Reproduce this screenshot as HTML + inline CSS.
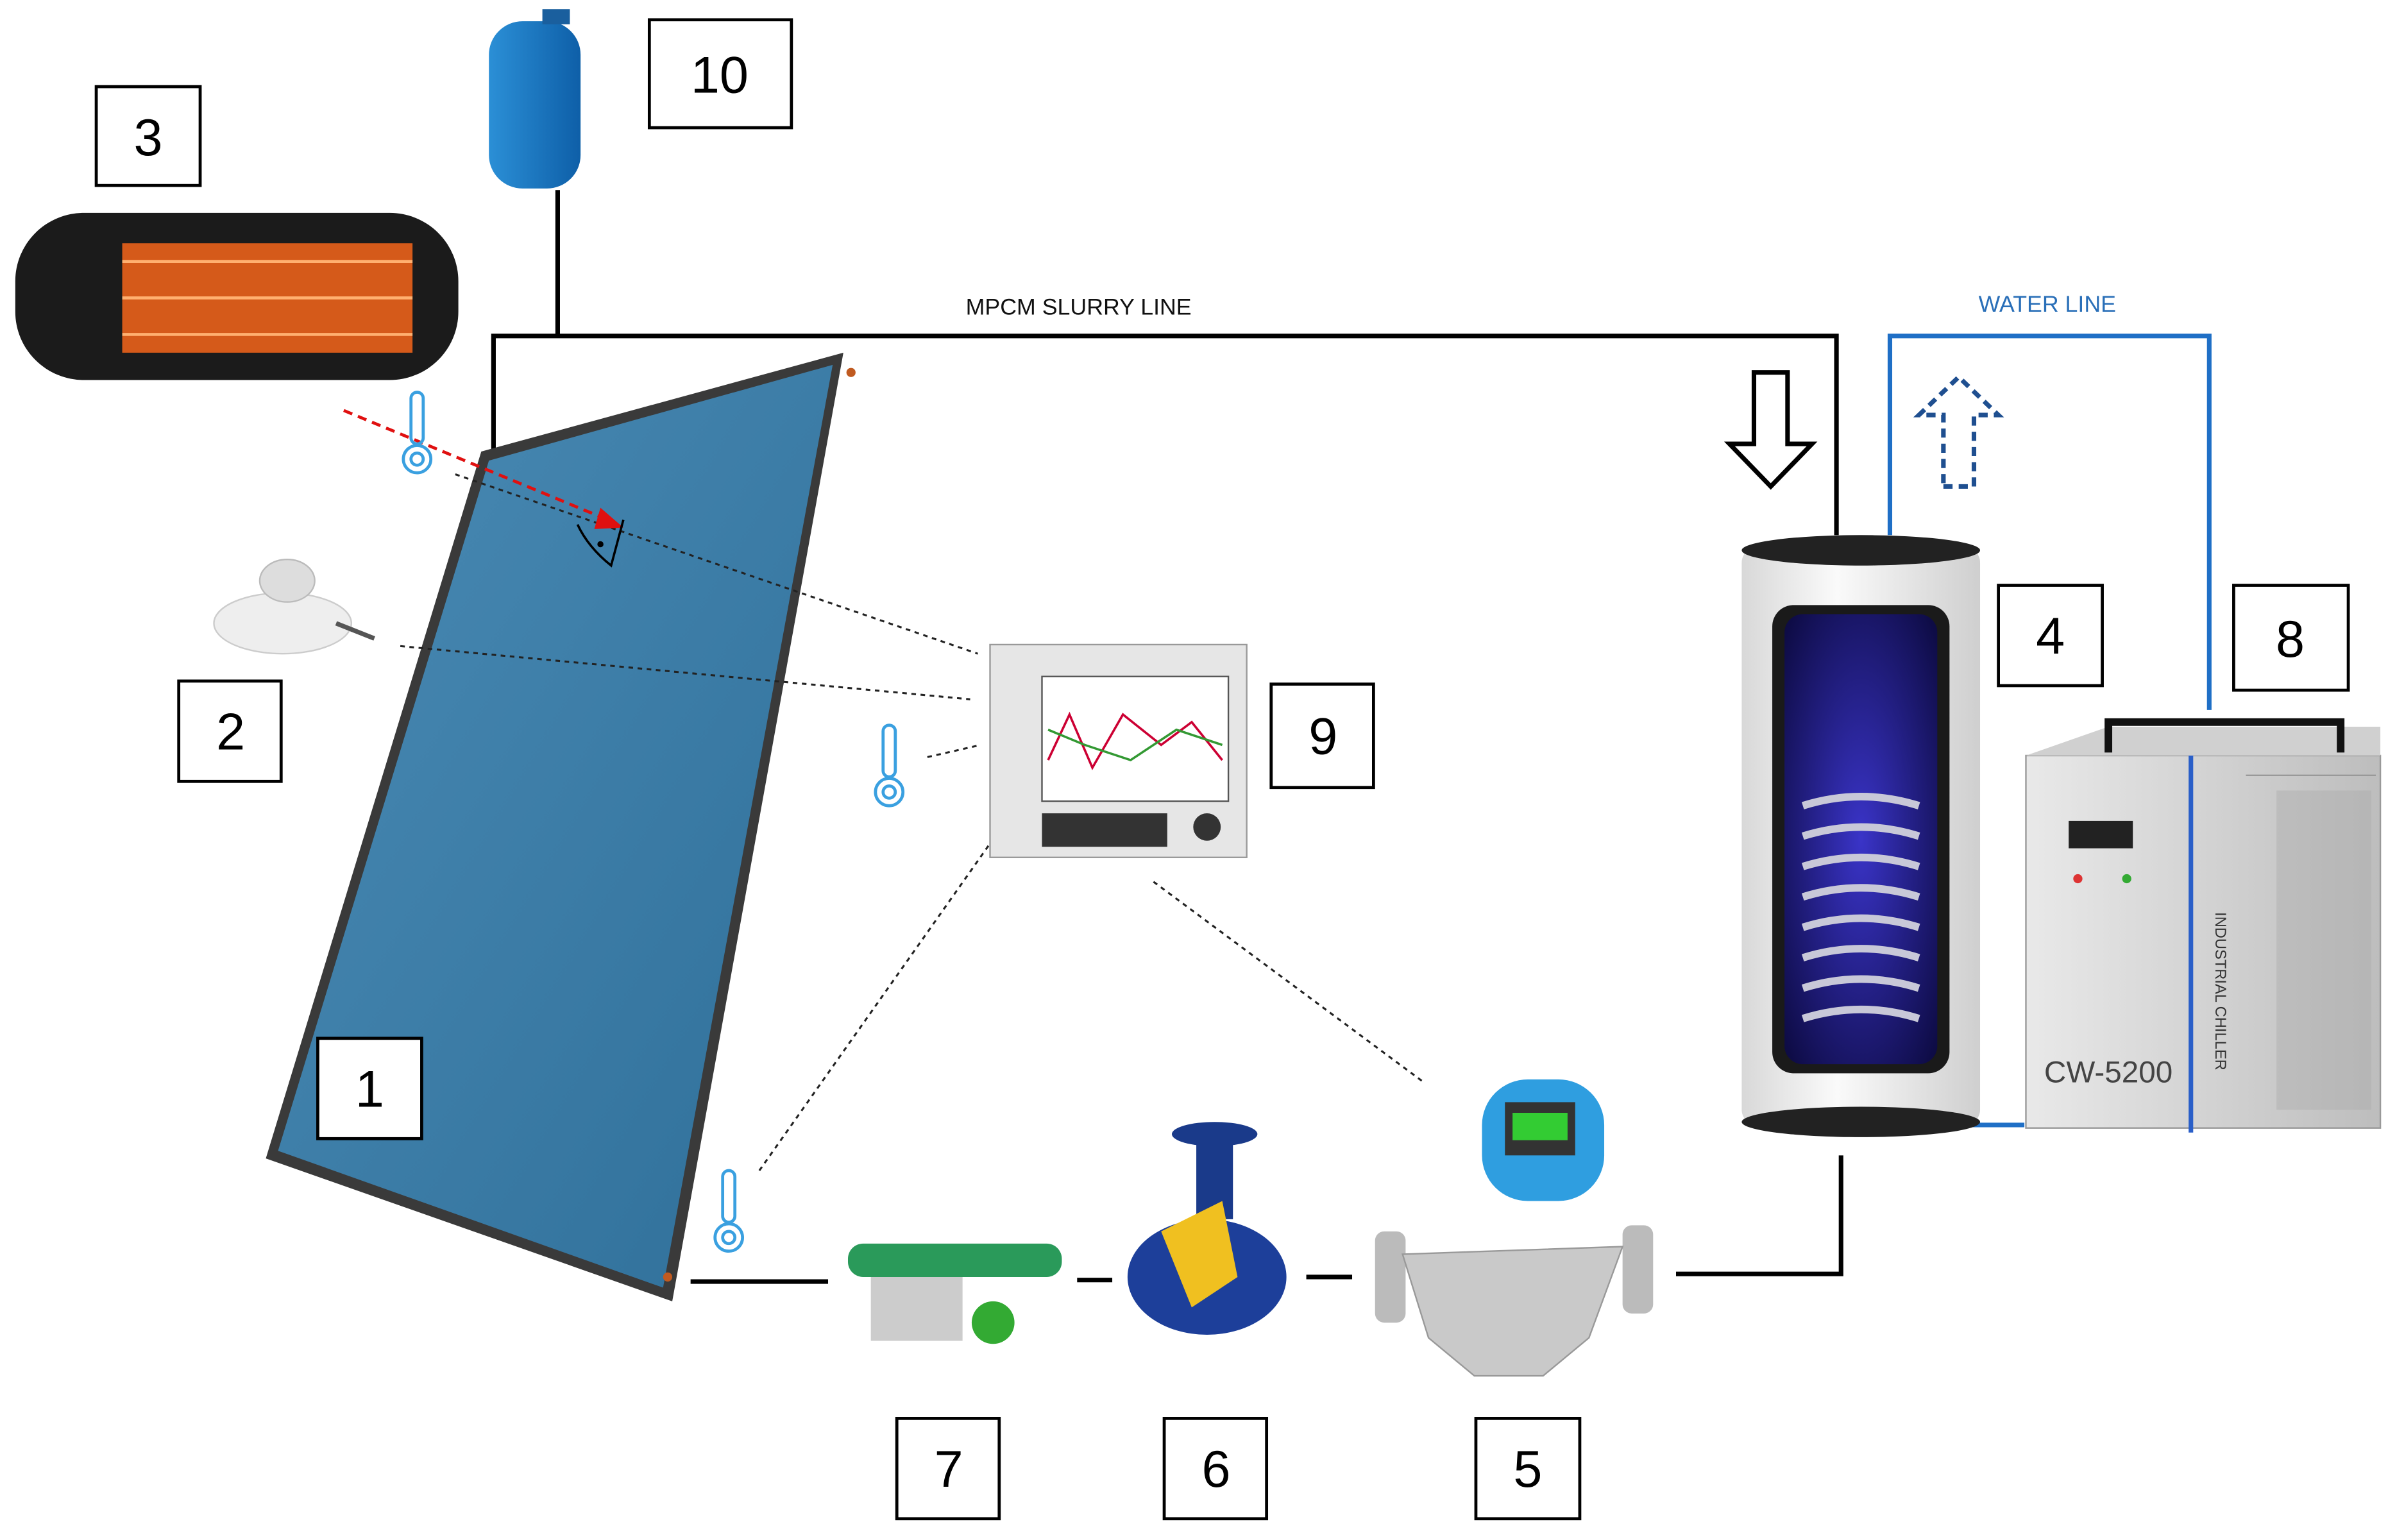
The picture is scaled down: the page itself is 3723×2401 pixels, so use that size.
<!DOCTYPE html>
<html><head><meta charset="utf-8"><style>
html,body{margin:0;padding:0;background:#fff;}
svg{display:block;}
text{font-family:"Liberation Sans",sans-serif;}
</style></head><body>
<svg width="3723" height="2401" viewBox="0 0 1563 1013" preserveAspectRatio="none" xmlns="http://www.w3.org/2000/svg">
<defs>
<linearGradient id="pan" x1="0" y1="0" x2="1" y2="1"><stop offset="0" stop-color="#4a8bb5"/><stop offset="1" stop-color="#2f6f99"/></linearGradient>
<linearGradient id="tank" x1="0" x2="1"><stop offset="0" stop-color="#2b8fd6"/><stop offset="1" stop-color="#0e5fa8"/></linearGradient>
<linearGradient id="cyl" x1="0" x2="1"><stop offset="0" stop-color="#d8d8d8"/><stop offset="0.4" stop-color="#fafafa"/><stop offset="1" stop-color="#cfcfcf"/></linearGradient>
<linearGradient id="chl" x1="0" x2="1"><stop offset="0" stop-color="#e9e9e9"/><stop offset="1" stop-color="#bdbdbd"/></linearGradient>
<radialGradient id="inner" cx="0.5" cy="0.5" r="0.7"><stop offset="0" stop-color="#3a34c8"/><stop offset="1" stop-color="#0c0a40"/></radialGradient>
</defs>

<!-- pipes -->
<polyline points="323,298 323,221 1202,221 1202,352" fill="none" stroke="#000" stroke-width="3"/>
<line x1="365" y1="125" x2="365" y2="221" stroke="#000" stroke-width="3"/>
<polyline points="1237,352 1237,221 1446,221 1446,467" fill="none" stroke="#1f6fc6" stroke-width="3"/>
<line x1="1288" y1="740" x2="1325" y2="740" stroke="#1f6fc6" stroke-width="3"/>
<line x1="452" y1="843" x2="542" y2="843" stroke="#000" stroke-width="3"/>
<line x1="705" y1="842" x2="728" y2="842" stroke="#000" stroke-width="3"/>
<line x1="855" y1="840" x2="885" y2="840" stroke="#000" stroke-width="3"/>
<polyline points="1097,838 1205,838 1205,760" fill="none" stroke="#000" stroke-width="3"/>

<text x="706" y="207" font-size="15" text-anchor="middle" fill="#111">MPCM SLURRY LINE</text>
<text x="1340" y="205" font-size="15" text-anchor="middle" fill="#2a6fb8">WATER LINE</text>

<!-- expansion tank -->
<rect x="320" y="14" width="60" height="110" rx="22" fill="url(#tank)"/>
<rect x="355" y="6" width="18" height="10" fill="#1a5f9e"/>

<!-- heater -->
<rect x="10" y="140" width="290" height="110" rx="45" fill="#1b1b1b"/>
<rect x="80" y="160" width="190" height="72" fill="#d55a1a"/>
<g stroke="#ffb070" stroke-width="2"><line x1="80" y1="172" x2="270" y2="172"/><line x1="80" y1="196" x2="270" y2="196"/><line x1="80" y1="220" x2="270" y2="220"/></g>

<!-- solar panel -->
<polygon points="315,297 552,232 440,856 174,762" fill="#3a3a3a"/>
<polygon points="320,303 545,240 434,847 182,757" fill="url(#pan)"/>
<circle cx="557" cy="245" r="3" fill="#c05a20"/><circle cx="437" cy="840" r="3" fill="#c05a20"/>

<!-- dotted lines -->
<g stroke="#222" stroke-width="1.3" stroke-dasharray="3,3" fill="none">
<line x1="298" y1="312" x2="640" y2="430"/>
<line x1="262" y1="425" x2="635" y2="460"/>
<line x1="607" y1="498" x2="642" y2="490"/>
<line x1="497" y1="770" x2="650" y2="552"/>
<line x1="755" y1="580" x2="932" y2="712"/>
</g>
<line x1="225" y1="270" x2="398" y2="342" stroke="#e01010" stroke-width="2" stroke-dasharray="6,4"/>
<polygon points="408,347 393,334 389,348" fill="#e01010"/>
<path d="M378,345 Q385,360 400,372 L408,342" fill="none" stroke="#000" stroke-width="1.5"/>
<circle cx="393" cy="358" r="2" fill="#000"/>

<!-- thermometers -->
<g fill="none" stroke="#3aa0e0" stroke-width="2">
<g transform="translate(273,258)"><rect x="-4" y="0" width="8" height="34" rx="4"/><circle cx="0" cy="44" r="9"/><circle cx="0" cy="44" r="4"/></g>
<g transform="translate(582,477)"><rect x="-4" y="0" width="8" height="34" rx="4"/><circle cx="0" cy="44" r="9"/><circle cx="0" cy="44" r="4"/></g>
<g transform="translate(477,770)"><rect x="-4" y="0" width="8" height="34" rx="4"/><circle cx="0" cy="44" r="9"/><circle cx="0" cy="44" r="4"/></g>
</g>

<!-- pyranometer -->
<ellipse cx="185" cy="410" rx="45" ry="20" fill="#eee" stroke="#ccc"/>
<ellipse cx="188" cy="382" rx="18" ry="14" fill="#ddd" stroke="#bbb"/>
<line x1="220" y1="410" x2="245" y2="420" stroke="#555" stroke-width="3"/>

<!-- device 9 -->
<rect x="648" y="424" width="168" height="140" fill="#e6e6e6" stroke="#999"/>
<rect x="682" y="445" width="122" height="82" fill="#fff" stroke="#555"/>
<polyline points="686,500 700,470 715,505 735,470 760,490 780,475 800,500" fill="none" stroke="#c03" stroke-width="1.5"/>
<polyline points="686,480 710,490 740,500 770,480 800,490" fill="none" stroke="#393" stroke-width="1.5"/>
<rect x="682" y="535" width="82" height="22" fill="#333"/>
<circle cx="790" cy="544" r="9" fill="#333"/>

<!-- tank 4 -->
<rect x="1140" y="360" width="156" height="380" rx="10" fill="url(#cyl)"/>
<ellipse cx="1218" cy="362" rx="78" ry="10" fill="#222"/>
<ellipse cx="1218" cy="738" rx="78" ry="10" fill="#222"/>
<rect x="1160" y="398" width="116" height="308" rx="14" fill="#1a1a1a"/>
<rect x="1168" y="404" width="100" height="296" rx="12" fill="url(#inner)"/>
<g fill="none" stroke="#c8c8d8" stroke-width="5">
<path d="M1180,530 Q1218,518 1256,530"/><path d="M1180,550 Q1218,538 1256,550"/><path d="M1180,570 Q1218,558 1256,570"/><path d="M1180,590 Q1218,578 1256,590"/><path d="M1180,610 Q1218,598 1256,610"/><path d="M1180,630 Q1218,618 1256,630"/><path d="M1180,650 Q1218,638 1256,650"/><path d="M1180,670 Q1218,658 1256,670"/>
</g>

<!-- chiller 8 -->
<rect x="1326" y="497" width="232" height="245" fill="url(#chl)" stroke="#999"/>
<polygon points="1326,497 1380,478 1558,478 1558,497" fill="#d0d0d0"/>
<path d="M1380,495 L1380,475 L1532,475 L1532,495" fill="none" stroke="#111" stroke-width="5"/>
<line x1="1434" y1="497" x2="1434" y2="745" stroke="#2a5fc8" stroke-width="3"/>
<rect x="1354" y="540" width="42" height="18" fill="#222"/>
<circle cx="1360" cy="578" r="3" fill="#d33"/><circle cx="1392" cy="578" r="3" fill="#3a3"/>
<text x="1380" y="712" font-size="20" text-anchor="middle" fill="#444">CW-5200</text>
<text transform="translate(1450,600) rotate(90)" font-size="10" fill="#333">INDUSTRIAL CHILLER</text>
<g stroke="#999" stroke-width="1"><line x1="1470" y1="510" x2="1555" y2="510"/></g>
<rect x="1490" y="520" width="62" height="210" fill="#aaa" opacity="0.4"/>

<!-- arrows -->
<polygon points="1148,245 1170,245 1170,292 1186,292 1159,320 1132,292 1148,292" fill="#fff" stroke="#000" stroke-width="3"/>
<polygon points="1272,320 1292,320 1292,273 1308,273 1282,248 1256,273 1272,273" fill="#fff" stroke="#1f4f90" stroke-width="3" stroke-dasharray="6,4"/>

<!-- pump 7 -->
<rect x="570" y="830" width="60" height="52" fill="#ccc"/>
<rect x="555" y="818" width="140" height="22" rx="10" fill="#2a9a5a"/>
<circle cx="650" cy="870" r="14" fill="#3a3"/>
<!-- valve 6 -->
<ellipse cx="795" cy="746" rx="28" ry="8" fill="#1a3a8a"/>
<rect x="783" y="752" width="24" height="50" fill="#1a3a8a"/>
<ellipse cx="790" cy="840" rx="52" ry="38" fill="#1d3f9a"/>
<polygon points="760,810 800,790 810,840 780,860" fill="#f0c020"/>
<!-- flowmeter 5 -->
<rect x="900" y="810" width="20" height="60" rx="6" fill="#bbb"/>
<rect x="1062" y="806" width="20" height="58" rx="6" fill="#bbb"/>
<polygon points="918,825 1062,820 1040,880 1010,905 965,905 935,880" fill="#c9c9c9" stroke="#999"/>
<rect x="970" y="710" width="80" height="80" rx="30" fill="#2f9ee0"/>
<rect x="985" y="725" width="46" height="35" fill="#333"/>
<rect x="990" y="732" width="36" height="18" fill="#3c3"/>

<!-- number boxes -->
<g fill="#fff" stroke="#000" stroke-width="2">
<rect x="63" y="57" width="68" height="65"/>
<rect x="425" y="13" width="93" height="71"/>
<rect x="117" y="448" width="67" height="66"/>
<rect x="208" y="683" width="68" height="66"/>
<rect x="832" y="450" width="67" height="68"/>
<rect x="1308" y="385" width="68" height="66"/>
<rect x="1462" y="385" width="75" height="69"/>
<rect x="587" y="933" width="67" height="66"/>
<rect x="762" y="933" width="67" height="66"/>
<rect x="966" y="933" width="68" height="66"/>
</g>
<g font-size="34" text-anchor="middle" fill="#000">
<text x="97" y="102">3</text>
<text x="471" y="61">10</text>
<text x="151" y="493">2</text>
<text x="242" y="728">1</text>
<text x="866" y="496">9</text>
<text x="1342" y="430">4</text>
<text x="1499" y="432">8</text>
<text x="621" y="978">7</text>
<text x="796" y="978">6</text>
<text x="1000" y="978">5</text>
</g>
</svg>
</body></html>
